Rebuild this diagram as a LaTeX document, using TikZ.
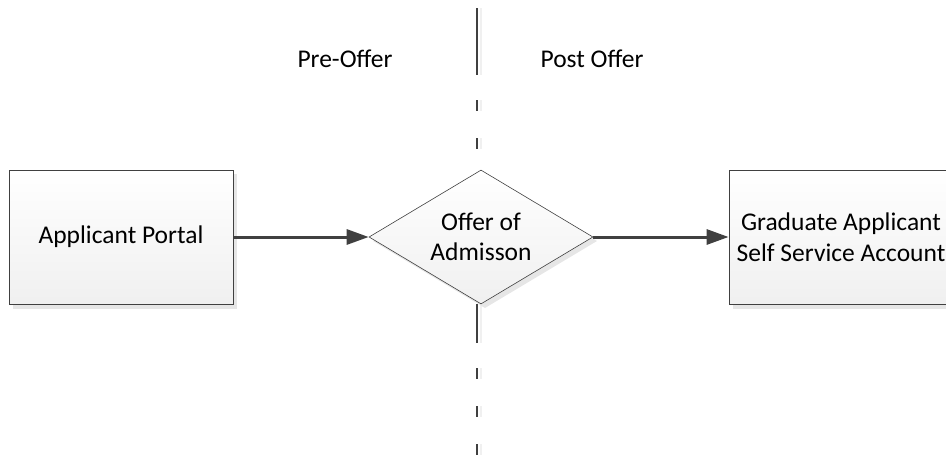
\documentclass[tikz,border=0pt]{standalone}
\usepackage{fontspec}
\setmainfont{Carlito}
\usetikzlibrary{arrows.meta,shapes.geometric}
\definecolor{edgec}{HTML}{404040}
\definecolor{shadowc}{HTML}{E6E6E6}
\tikzset{
  txt/.style={font=\fontsize{25.5}{30.5}\selectfont, text=black, align=center},
  boxshape/.style={draw=edgec, line width=0.8pt, top color=white, bottom color=black!6},
  shadowshape/.style={fill=shadowc, draw=none},
  conn/.style={draw=edgec, line width=3pt, -{Triangle[length=22pt,width=15pt]}},
  divider/.style={draw=edgec, line width=1.2pt},
  dividershadow/.style={draw=black!6, line width=1.2pt}
}
\begin{document}
\begin{tikzpicture}[x=1pt,y=-1pt]
\useasboundingbox (0,0) rectangle (946,455);
% divider line (shadow then line)
\draw[dividershadow] (481,8) -- (481,75);
\draw[dividershadow, dash pattern=on 11pt off 27pt] (481,100) -- (481,170);
\draw[dividershadow] (481,304) -- (481,343);
\draw[dividershadow, dash pattern=on 11pt off 27pt] (481,368) -- (481,455);
\coordinate (dtop) at (477,8);
\coordinate (d1) at (477,75);
\coordinate (d2) at (477,100);
\coordinate (d3) at (477,175);
\coordinate (d4) at (477,304);
\coordinate (d5) at (477,343);
\coordinate (d6) at (477,368);
\coordinate (dbot) at (477,455);
\draw[divider] (dtop) -- (d1);
\draw[divider, dash pattern=on 11pt off 27pt] (d2) -- (d3);
\draw[divider] (d4) -- (d5);
\draw[divider, dash pattern=on 11pt off 27pt] (d6) -- (dbot);
% shadows
\fill[shadowshape] (13,174) rectangle (237,309);
\fill[shadowshape] (733,174) rectangle (957,309);
\fill[shadowshape] (373,241) -- (485,174) -- (597,241) -- (485,308) -- cycle;
% nodes
\node[boxshape, minimum width=224pt, minimum height=134pt, inner sep=0pt] (portal) at (121,237) {};
\node[txt] at (portal.center) {Applicant Portal};
\node[boxshape, minimum width=224pt, minimum height=134pt, inner sep=0pt] (account) at (841,237) {};
\node[txt] at (account.center) {Graduate Applicant\\Self Service Account};
\node[boxshape, line width=0.6pt, diamond, minimum width=224pt, minimum height=134pt, inner sep=0pt, aspect=1.67] (offer) at (481,237) {};
\node[txt] at (offer.center) {Offer of\\Admisson};
% labels
\node[txt] (pre) at (345,59) {Pre-Offer};
\node[txt] (post) at (592,59) {Post Offer};
% connectors
\draw[conn] (portal.east) -- (offer.west);
\draw[conn] (offer.east) -- (account.west);
\end{tikzpicture}
\end{document}
